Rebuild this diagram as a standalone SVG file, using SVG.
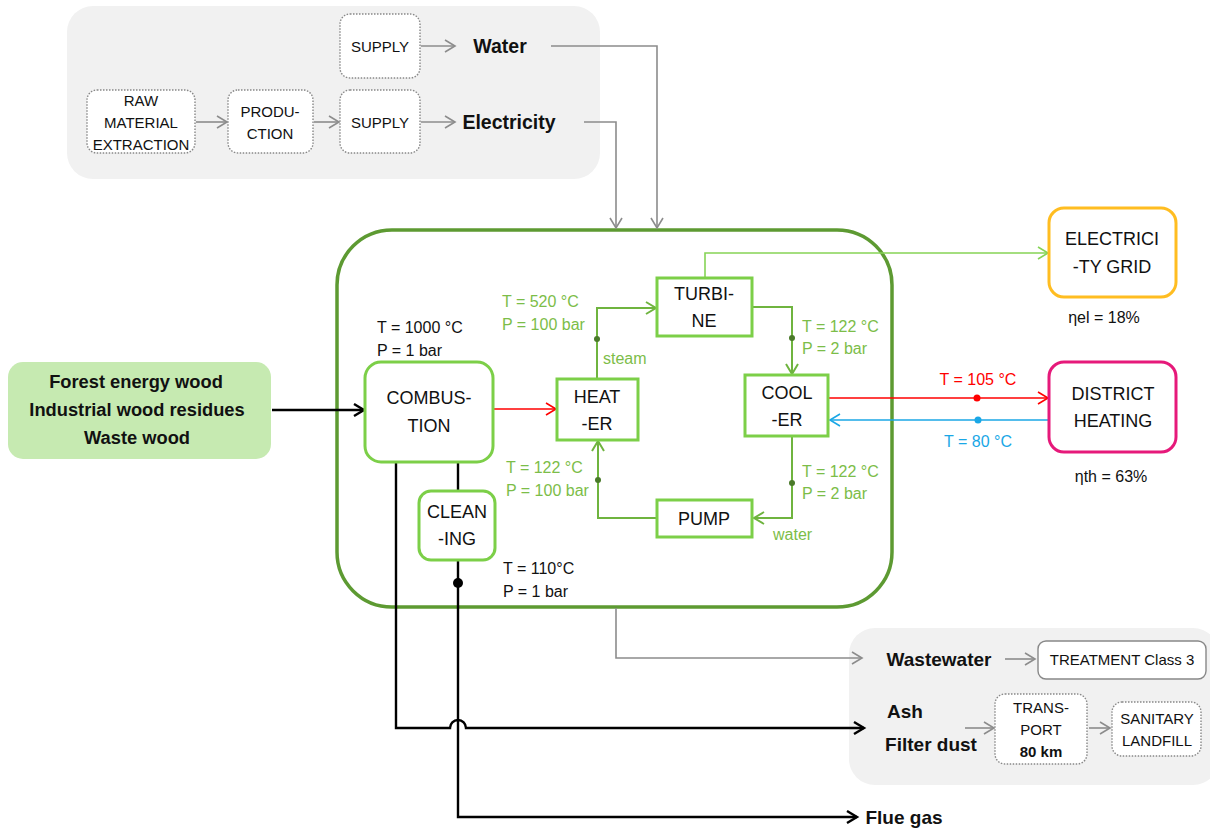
<svg xmlns="http://www.w3.org/2000/svg" width="1210" height="830" viewBox="0 0 1210 830">
<style>
text{font-family:"Liberation Sans",Arial,sans-serif;text-anchor:middle;fill:#111}
.b{font-weight:bold}
.pnl{fill:#f1f1f1;stroke:none}
.dot{fill:#fff;stroke:#888;stroke-width:1.4;stroke-dasharray:1.5 1.5}
.gb{fill:#fff;stroke:#7ccf48;stroke-width:3}
.g{fill:#7cbd48}
.sm{font-size:15px}
.md{font-size:18px}
.lb{font-size:16px}
.ln{fill:none}
.gry{stroke:#8c8c8c;stroke-width:1.6}
.blk{stroke:#000;stroke-width:2.4}
.cyc{stroke:#6fb43f;stroke-width:2}
</style>
<defs>
<marker id="aG" markerUnits="userSpaceOnUse" markerWidth="14" markerHeight="14" refX="11" refY="7" orient="auto"><path d="M1,1 L11,7 L1,13" fill="none" stroke="#8c8c8c" stroke-width="1.6"/></marker>
<marker id="aK" markerUnits="userSpaceOnUse" markerWidth="14" markerHeight="14" refX="11" refY="7" orient="auto"><path d="M1,1 L11,7 L1,13" fill="none" stroke="#000" stroke-width="2.4"/></marker>
<marker id="aR" markerUnits="userSpaceOnUse" markerWidth="14" markerHeight="14" refX="11" refY="7" orient="auto"><path d="M1,1 L11,7 L1,13" fill="none" stroke="#f00" stroke-width="1.6"/></marker>
<marker id="aB" markerUnits="userSpaceOnUse" markerWidth="14" markerHeight="14" refX="11" refY="7" orient="auto"><path d="M1,1 L11,7 L1,13" fill="none" stroke="#1aa7e6" stroke-width="1.6"/></marker>
<marker id="aC" markerUnits="userSpaceOnUse" markerWidth="14" markerHeight="14" refX="11" refY="7" orient="auto"><path d="M1,1 L11,7 L1,13" fill="none" stroke="#6fb43f" stroke-width="2"/></marker>
<marker id="aL" markerUnits="userSpaceOnUse" markerWidth="14" markerHeight="14" refX="11" refY="7" orient="auto"><path d="M1,1 L11,7 L1,13" fill="none" stroke="#86d456" stroke-width="1.6"/></marker>
</defs>

<rect class="pnl" x="67" y="6" width="533" height="173" rx="26"/>
<rect class="pnl" x="849" y="628" width="370" height="157" rx="26"/>

<g id="main">
<rect x="337" y="230" width="555" height="377" rx="55" fill="none" stroke="#5d9a32" stroke-width="3.5"/>
</g>

<g id="connectors">
<polyline class="ln gry" points="551,46 657,46 657,228" marker-end="url(#aG)"/>
<polyline class="ln gry" points="584,122 616,122 616,228" marker-end="url(#aG)"/>
<line class="gry" x1="421" y1="46" x2="455" y2="46" marker-end="url(#aG)"/>
<line class="gry" x1="196" y1="122" x2="227" y2="122" marker-end="url(#aG)"/>
<line class="gry" x1="314" y1="122" x2="339" y2="122" marker-end="url(#aG)"/>
<line class="gry" x1="421" y1="122" x2="455" y2="122" marker-end="url(#aG)"/>
<line class="blk" x1="272" y1="410" x2="364" y2="410" marker-end="url(#aK)"/>
<line stroke="#f00" stroke-width="1.6" x1="494" y1="409" x2="556" y2="409" marker-end="url(#aR)"/>
<polyline class="ln cyc" points="597,379 597,308 656,308" marker-end="url(#aC)"/>
<polyline class="ln cyc" points="753,307 792,307 792,374" marker-end="url(#aC)"/>
<polyline class="ln cyc" points="792,437 792,518 754,518" marker-end="url(#aC)"/>
<polyline class="ln cyc" points="656,518 598,518 598,441" marker-end="url(#aC)"/>
<polyline class="ln" stroke="#86d456" stroke-width="1.6" points="705,277 705,253 1048,253" marker-end="url(#aL)"/>
<line stroke="#f00" stroke-width="1.6" x1="829" y1="398" x2="1048" y2="398" marker-end="url(#aR)"/>
<line stroke="#1aa7e6" stroke-width="1.6" x1="1048" y1="420" x2="830" y2="420" marker-end="url(#aB)"/>
<path class="ln blk" d="M396,463 V728 H450 A8,8 0 0 1 466,728 H864" marker-end="url(#aK)"/>
<line class="blk" x1="458" y1="463" x2="458" y2="491"/>
<path class="ln blk" d="M458,561 V817 H857" marker-end="url(#aK)"/>
<path class="ln gry" d="M616,608 V658 H862" marker-end="url(#aG)"/>
<line class="gry" x1="1005" y1="659" x2="1035" y2="659" marker-end="url(#aG)"/>
<line class="gry" x1="965" y1="728" x2="994" y2="728" marker-end="url(#aG)"/>
<line class="gry" x1="1089" y1="728" x2="1110" y2="728" marker-end="url(#aG)"/>
<circle cx="597" cy="339" r="3" fill="#4a7a2a"/>
<circle cx="792" cy="338" r="3" fill="#4a7a2a"/>
<circle cx="792" cy="483" r="3" fill="#4a7a2a"/>
<circle cx="598" cy="480" r="3" fill="#4a7a2a"/>
<circle cx="977" cy="398" r="3.5" fill="#f00"/>
<circle cx="978" cy="420" r="3.5" fill="#1aa7e6"/>
<circle cx="458" cy="583" r="5" fill="#000"/>
</g>

<g id="supply-water"><rect class="dot" x="340" y="14" width="80" height="64" rx="10"/><text class="sm" x="380" y="52">SUPPLY</text></g>
<g id="water"><text class="b" font-size="19.5" x="500" y="53">Water</text></g>
<g id="raw"><rect class="dot" x="87" y="90" width="108" height="63" rx="10"/><text class="sm" x="141" y="106">RAW</text><text class="sm" x="141" y="128">MATERIAL</text><text class="sm" x="141" y="150">EXTRACTION</text></g>
<g id="production"><rect class="dot" x="228" y="90" width="85" height="63" rx="10"/><text class="sm" x="270" y="117">PRODU-</text><text class="sm" x="270" y="139">CTION</text></g>
<g id="supply-el"><rect class="dot" x="340" y="90" width="80" height="63" rx="10"/><text class="sm" x="380" y="128">SUPPLY</text></g>
<g id="electricity"><text class="b" font-size="19.5" x="509" y="129">Electricity</text></g>

<g id="input"><rect x="8" y="362" width="263" height="97" rx="15" fill="#c6eab1"/>
<text class="b" font-size="18.3" x="136" y="388">Forest energy wood</text>
<text class="b" font-size="18.3" x="137" y="416">Industrial wood residues</text>
<text class="b" font-size="18.3" x="137" y="444">Waste wood</text></g>

<g id="combustion"><rect class="gb" x="365" y="362" width="128" height="100" rx="16"/><text class="md" x="429" y="404">COMBUS-</text><text class="md" x="429" y="432">TION</text></g>
<g id="heater"><rect class="gb" x="557" y="379" width="81" height="61"/><text class="md" x="597" y="403">HEAT</text><text class="md" x="597" y="430">-ER</text></g>
<g id="turbine"><rect class="gb" x="657" y="278" width="95" height="58"/><text class="md" x="704" y="300">TURBI-</text><text class="md" x="704" y="327">NE</text></g>
<g id="cooler"><rect class="gb" x="745" y="375" width="83" height="61"/><text class="md" x="787" y="399">COOL</text><text class="md" x="787" y="426">-ER</text></g>
<g id="pump"><rect class="gb" x="657" y="500" width="95" height="37"/><text class="md" x="704" y="525">PUMP</text></g>
<g id="cleaning"><rect class="gb" x="419" y="491" width="76" height="69" rx="12"/><text class="md" x="457" y="518">CLEAN</text><text class="md" x="457" y="545">-ING</text></g>

<g id="grid"><rect x="1049" y="208" width="127" height="89" rx="15" fill="#fff" stroke="#ffbd21" stroke-width="3"/><text class="md" x="1112" y="245">ELECTRICI</text><text class="md" x="1112" y="273">-TY GRID</text><text class="lb" x="1104" y="323">ηel = 18%</text></g>
<g id="district"><rect x="1049" y="362" width="127" height="90" rx="15" fill="#fff" stroke="#e6197a" stroke-width="3"/><text class="md" x="1113" y="400">DISTRICT</text><text class="md" x="1113" y="427">HEATING</text><text class="lb" x="1111" y="482">ηth = 63%</text></g>

<g id="labels">
<text class="lb" x="377" y="333" text-anchor="start" style="text-anchor:start">T = 1000 °C</text>
<text class="lb" x="377" y="356" style="text-anchor:start">P = 1 bar</text>
<text class="lb" x="503" y="574" style="text-anchor:start">T = 110°C</text>
<text class="lb" x="503" y="597" style="text-anchor:start">P = 1 bar</text>
<text class="lb g" x="502" y="307" style="text-anchor:start">T = 520 °C</text>
<text class="lb g" x="502" y="330" style="text-anchor:start">P = 100 bar</text>
<text class="lb g" x="603" y="364" style="text-anchor:start">steam</text>
<text class="lb g" x="802" y="332" style="text-anchor:start">T = 122 °C</text>
<text class="lb g" x="802" y="354" style="text-anchor:start">P = 2 bar</text>
<text class="lb g" x="802" y="477" style="text-anchor:start">T = 122 °C</text>
<text class="lb g" x="802" y="499" style="text-anchor:start">P = 2 bar</text>
<text class="lb g" x="506" y="473" style="text-anchor:start">T = 122 °C</text>
<text class="lb g" x="506" y="496" style="text-anchor:start">P = 100 bar</text>
<text class="lb g" x="773" y="540" style="text-anchor:start">water</text>
<text class="lb" x="978" y="385" style="fill:#f00">T = 105 °C</text>
<text class="lb" x="978" y="447" style="fill:#1aa7e6">T = 80 °C</text>
</g>

<g id="wastewater"><text class="b" font-size="19" x="939" y="666">Wastewater</text></g>
<g id="treatment"><rect x="1038" y="641" width="168" height="38" rx="8" fill="#fff" stroke="#888" stroke-width="1.4"/><text class="sm" x="1122" y="665">TREATMENT Class 3</text></g>
<g id="ash"><text class="b" font-size="19" x="905" y="718">Ash</text><text class="b" font-size="19" x="931" y="751">Filter dust</text></g>
<g id="transport"><rect class="dot" x="995" y="694" width="92" height="70" rx="10"/><text class="sm" x="1041" y="713">TRANS-</text><text class="sm" x="1041" y="735">PORT</text><text class="sm b" x="1041" y="757">80 km</text></g>
<g id="landfill"><rect class="dot" x="1112" y="702" width="89" height="54" rx="10"/><text class="sm" x="1157" y="724">SANITARY</text><text class="sm" x="1157" y="746">LANDFILL</text></g>
<g id="fluegas"><text class="b" font-size="19" x="904" y="824">Flue gas</text></g>
</svg>
